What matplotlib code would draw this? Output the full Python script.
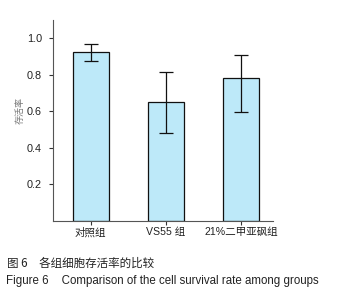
import matplotlib
matplotlib.use("Agg")
import matplotlib.pyplot as plt

plt.rcParams['font.family'] = ['Liberation Sans', 'Noto Sans CJK SC', 'DejaVu Sans']

categories = ["对照组", "VS55 组", "21%二甲亚砜组"]
values = [0.925, 0.65, 0.78]
err_lower = [0.048, 0.167, 0.183]
err_upper = [0.043, 0.167, 0.126]
yticks = [0.2, 0.4, 0.6, 0.8, 1.0]

fig = plt.figure(figsize=(3.43, 3.0), dpi=100)
ax = fig.add_axes([53/343, 1 - 221/300, (273-53)/343, (221-20)/300])

x = range(len(categories))
ax.bar(x, values, width=0.48, color="#bde9f9", edgecolor="#111111", linewidth=0.9,
       yerr=[err_lower, err_upper], capsize=5,
       error_kw=dict(ecolor="#111111", elinewidth=0.9, capthick=0.9))

ax.set_xlim(-0.5, 2.42)
ax.set_ylim(0, 1.1)
ax.set_yticks(yticks)
ax.set_yticklabels([f"{v:.1f}" for v in yticks], fontsize=7.8, color="#222222")
ax.set_xticks(list(x))
ax.set_xticklabels(categories, fontsize=7.6, color="#222222")
for lbl in ax.get_xticklabels():
    lbl.set_family(['Liberation Sans', 'Noto Sans CJK SC'])
ax.tick_params(axis='y', length=3, width=0.8, color="#333333", pad=5)
ax.tick_params(axis='x', length=3, width=0.8, color="#333333", pad=1.5)
ax.spines['top'].set_visible(False)
ax.spines['right'].set_visible(False)
ax.spines['left'].set_color("#555555")
ax.spines['bottom'].set_color("#555555")
ax.set_ylabel("存活率", fontsize=6.5, color="#777777", family=['Noto Sans CJK SC'])
ax.yaxis.set_label_coords(-0.13, 0.55)

fig.text(7/343, 1 - 263/300, "图 6　各组细胞存活率的比较", fontsize=8.3, color="#222222",
         family=['Noto Sans CJK SC', 'DejaVu Sans'], va='center', ha='left')
fig.text(6/343, 1 - 281/300, "Figure 6    Comparison of the cell survival rate among groups",
         fontsize=8.3, color="#222222", family=['Liberation Sans'], va='center', ha='left')

fig.savefig("out.png", dpi=100)
